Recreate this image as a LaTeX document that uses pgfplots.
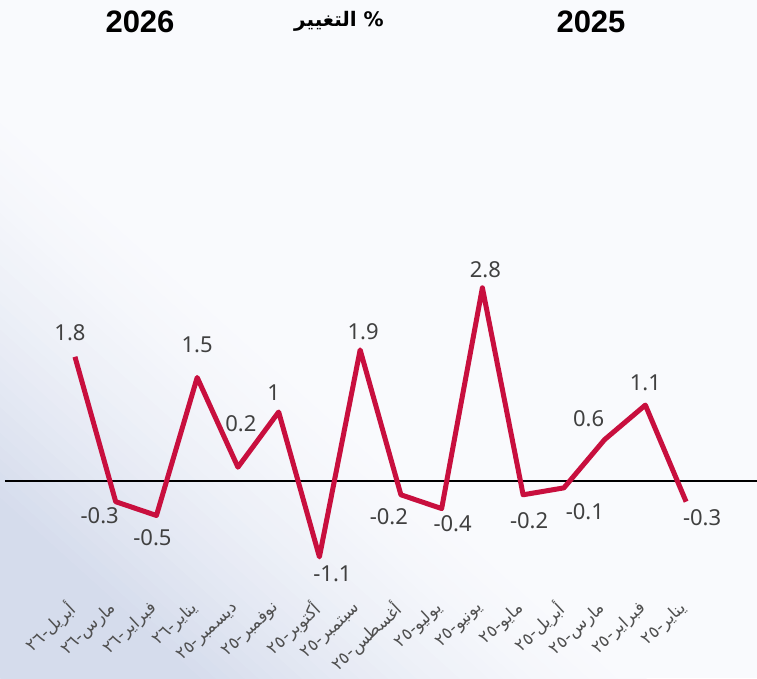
\documentclass[border=0pt]{standalone}
\usepackage{fontspec}
\usepackage{pgfplots}
\usepackage{pgfplotstable}
\pgfplotsset{compat=1.18}
\TeXXeTstate=1
\setmainfont{Noto Sans}
\newfontfamily\arabicfont[Script=Arabic]{DejaVu Sans}
\newfontfamily\titlefont{Liberation Sans}
\definecolor{linered}{HTML}{C80F3E}
\definecolor{bgdark}{HTML}{D5DCEC}
\definecolor{bglight}{HTML}{F9FAFD}
\definecolor{labgray}{HTML}{404040}
\definecolor{tickgray}{HTML}{505050}

\pgfplotstableread{
i v dx dy
0 -0.3 16 -16
1 1.1 0 22
2 0.6 -16 21
3 -0.1 21 -24
4 -0.2 6 -26
5 2.8 3 18
6 -0.4 11 -15
7 -0.2 -12 -22
8 1.9 3 18
9 -1.1 13 -17
10 1 -5 19
11 0.2 3 44
12 1.5 0 33
13 -0.5 -4 -22
14 -0.3 -16 -14
15 1.8 -5 24
}\datatable

\newcommand{\ar}[1]{{\arabicfont\beginR #1\endR}}

\begin{document}
\begin{tikzpicture}[x=1pt,y=1pt]
\useasboundingbox (0,0) rectangle (757,678);
\begin{scope}
\clip (0,0) rectangle (757,678);
\fill[bglight] (0,0) rectangle (757,678);
\foreach \k in {0,...,44}{
  \pgfmathsetmacro\t{(\k+0.5)/45}
  \pgfmathsetmacro\s{max(0,(\t-0.3)/0.7)}
  \pgfmathsetmacro\p{100*(1-\s)^1.5}
  \fill[bgdark!\p!bglight, rotate=-42] (-1200,\k*9.6-0.3) rectangle (1200,\k*9.6+9.9);
}
\end{scope}
\node[font=\titlefont\bfseries\fontsize{31}{31}\selectfont] at (140,656) {2026};
\node[font=\titlefont\bfseries\fontsize{31}{31}\selectfont] at (591,656) {2025};
\node[font=\fontsize{20}{20}\selectfont] at (339,657) {{\arabicfont\bfseries\beginR\%\ التغيير\endR}};
\begin{axis}[
  at={(0pt,78pt)}, anchor=south west,
  width=757pt, height=600pt, scale only axis,
  x dir=reverse,
  xmin=-1.74, xmax=16.84,
  ymin=-1.725, ymax=6.971,
  axis line style={draw=none},
  major tick length=0pt,
  ytick=\empty,
  xtick={0,...,15},
  xticklabels={\ar{يناير-٢٥},\ar{فبراير-٢٥},\ar{مارس-٢٥},\ar{أبريل-٢٥},\ar{مايو-٢٥},\ar{يونيو-٢٥},\ar{يوليو-٢٥},\ar{أغسطس-٢٥},\ar{سبتمبر-٢٥},\ar{أكتوبر-٢٥},\ar{نوفمبر-٢٥},\ar{ديسمبر-٢٥},\ar{يناير-٢٦},\ar{فبراير-٢٦},\ar{مارس-٢٦},\ar{أبريل-٢٦}},
  xticklabel style={xshift=-2pt, yshift=-6pt, rotate=43, anchor=east, inner sep=0pt, font=\fontsize{17}{17}\selectfont, text=tickgray},
  clip=false,
]
\addplot[black, line width=2.5pt] coordinates {(16.72,0) (-1.74,0)};
\addplot[linered, line width=5pt, line join=round] table[x=i, y=v] {\datatable};
\addplot[draw=none, mark=none,
  nodes near coords={\pgfplotspointmeta},
  point meta=explicit symbolic,
  visualization depends on={\thisrow{dx} \as \dx},
  visualization depends on={\thisrow{dy} \as \dy},
  every node near coord/.style={anchor=center, xshift=\dx pt, yshift=\dy pt, font=\fontsize{22}{22}\selectfont, text=labgray, inner sep=0pt},
] table[x=i, y=v, meta=v] {\datatable};
\end{axis}
\end{tikzpicture}
\end{document}
